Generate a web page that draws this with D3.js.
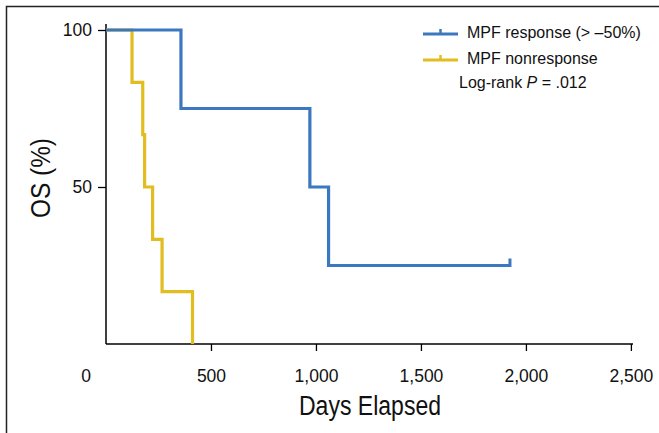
<!DOCTYPE html>
<html>
<head>
<meta charset="utf-8">
<script src="https://cdn.jsdelivr.net/npm/d3@7/dist/d3.min.js"></script>
<style>
  body { margin: 0; background: #fff; }
  svg { display: block; }
  .tick text { font-family: "Liberation Sans", Arial, sans-serif; }
</style>
</head>
<body>
<svg id="chart" width="659" height="433"></svg>
<script>
// step curves: [day, survival %]
const responseSteps = [[0, 100], [357, 100], [357, 75], [971, 75], [971, 50], [1060, 50], [1060, 25], [1924, 25]];
const nonresponseSteps = [[0, 100], [124, 100], [124, 83.3], [175, 83.3], [175, 66.7], [184, 66.7], [184, 50],
    [222, 50], [222, 33.3], [267, 33.3], [267, 16.7], [412, 16.7], [412, 0]];
const responseCensored = [[1924, 25]];
const xTicks = [500, 1000, 1500, 2000, 2500];
const yTicks = [50, 100];
const seriesNames = ['MPF response (> \u201350%)', 'MPF nonresponse'];
const seriesColors = ['#3b78c0', '#e1bd1f'];

const svg = d3.select('#chart');

// outer frame (top and left edge only)
svg.append('path')
    .attr('d', 'M6.5,433 L6.5,6.5 L659,6.5')
    .attr('fill', 'none')
    .attr('stroke', '#222')
    .attr('stroke-width', 1.5);

const x = d3.scaleLinear().domain([0, 2510]).range([106, 633]);
const y = d3.scaleLinear().domain([0, 100]).range([344, 30]);

const xAxis = svg.append('g')
    .attr('transform', 'translate(0,' + y(0) + ')')
    .call(d3.axisBottom(x).tickValues(xTicks).tickSize(7).tickSizeOuter(0)
        .tickFormat(d3.format(',')));
xAxis.select('.domain').attr('d', 'M' + x(0) + ',0H' + x(2510)).attr('stroke-width', 1.5);
xAxis.selectAll('.tick line').attr('stroke-width', 1.3);
xAxis.selectAll('.tick text')
    .style('font-size', '17.5px')
    .attr('y', 38).attr('dy', 0)
    .attr('fill', '#111');

// the "0" label sits left of the corner
svg.append('text')
    .attr('x', 86).attr('y', 382)
    .attr('text-anchor', 'middle')
    .attr('font-family', '"Liberation Sans", Arial, sans-serif')
    .style('font-size', '17.5px').attr('fill', '#111')
    .text('0');

const yAxis = svg.append('g')
    .attr('transform', 'translate(' + x(0) + ',0)')
    .call(d3.axisLeft(y).tickValues(yTicks).tickSize(8).tickSizeOuter(0));
yAxis.select('.domain').attr('d', 'M0,' + y(0) + 'V' + (y(100) - 6)).attr('stroke-width', 1.5);
yAxis.selectAll('.tick line').attr('stroke-width', 1.3);
yAxis.selectAll('.tick text')
    .style('font-size', '17.5px')
    .attr('x', -14).attr('fill', '#111');

// axis titles (condensed face)
svg.append('text')
    .attr('x', 370).attr('y', 415)
    .attr('text-anchor', 'middle')
    .attr('font-family', '"Liberation Sans Narrow", "Liberation Sans", sans-serif')
    .attr('font-size', 27).attr('fill', '#111')
    .attr('textLength', 142).attr('lengthAdjust', 'spacingAndGlyphs')
    .text('Days Elapsed');

svg.append('text')
    .attr('transform', 'translate(50,178) rotate(-90)')
    .attr('text-anchor', 'middle')
    .attr('font-family', '"Liberation Sans Narrow", "Liberation Sans", sans-serif')
    .attr('font-size', 27).attr('fill', '#111')
    .attr('textLength', 80).attr('lengthAdjust', 'spacingAndGlyphs')
    .text('OS (%)');

const line = d3.line().x((d) => x(d[0])).y((d) => y(d[1]));

svg.append('path')
    .datum(nonresponseSteps)
    .attr('d', line)
    .attr('fill', 'none')
    .attr('stroke', seriesColors[1])
    .attr('stroke-width', 3.2);

svg.append('path')
    .datum(responseSteps)
    .attr('d', line)
    .attr('fill', 'none')
    .attr('stroke', seriesColors[0])
    .attr('stroke-width', 3.2);

svg.selectAll('.censor')
    .data(responseCensored)
    .enter().append('line')
    .classed('censor', true)
    .attr('x1', (d) => x(d[0])).attr('x2', (d) => x(d[0]))
    .attr('y1', (d) => y(d[1]) + 1.5).attr('y2', (d) => y(d[1]) - 7)
    .attr('stroke', seriesColors[0])
    .attr('stroke-width', 3);

// legend
const legend = svg.append('g').attr('transform', 'translate(423,34)');
seriesNames.forEach((name, i) => {
    const g = legend.append('g').attr('transform', 'translate(0,' + (i * 26) + ')');
    g.append('line')
        .attr('x1', 0).attr('x2', 35).attr('y1', 0).attr('y2', 0)
        .attr('stroke', seriesColors[i]).attr('stroke-width', 3.2);
    g.append('line')
        .attr('x1', 17.5).attr('x2', 17.5).attr('y1', 1).attr('y2', -5)
        .attr('stroke', seriesColors[i]).attr('stroke-width', 2.5);
    g.append('text')
        .attr('x', 44).attr('y', 4)
        .attr('font-family', '"Liberation Sans", Arial, sans-serif')
        .attr('font-size', 16).attr('fill', '#111')
        .text(name);
});

const logrank = svg.append('text')
    .attr('x', 459).attr('y', 88)
    .attr('font-family', '"Liberation Sans", Arial, sans-serif')
    .attr('font-size', 16).attr('fill', '#111');
logrank.append('tspan').text('Log-rank ');
logrank.append('tspan').attr('font-style', 'italic').text('P');
logrank.append('tspan').text(' = .012');
</script>
</body>
</html>
